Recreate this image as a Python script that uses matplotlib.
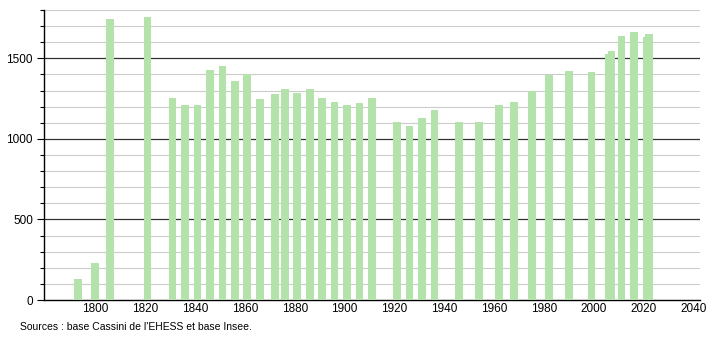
import matplotlib.pyplot as plt
from matplotlib.ticker import MultipleLocator

plt.rcParams['font.family'] = ['Liberation Sans', 'DejaVu Sans']

# --- DATA ---
years = [1793, 1800, 1806, 1821, 1831, 1836, 1841, 1846, 1851, 1856,
         1861, 1866, 1872, 1876, 1881, 1886, 1891, 1896, 1901, 1906,
         1911, 1921, 1926, 1931, 1936, 1946, 1954, 1962, 1968, 1975,
         1982, 1990, 1999, 2006, 2007, 2011, 2016, 2021, 2022]
population = [130, 228, 1743, 1754, 1256, 1212, 1212, 1426, 1455, 1357,
              1405, 1245, 1281, 1312, 1287, 1312, 1256, 1231, 1212, 1225,
              1256, 1106, 1081, 1131, 1181, 1106, 1106, 1212, 1231, 1297,
              1395, 1424, 1413, 1525, 1545, 1640, 1662, 1630, 1650]
x_ticks = [1800, 1820, 1840, 1860, 1880, 1900, 1920, 1940, 1960, 1980, 2000, 2020, 2040]
y_ticks = [0, 500, 1000, 1500]

fig = plt.figure(figsize=(7.1, 3.4), dpi=100)
ax = fig.add_axes([0.062, 0.1176, 0.924, 0.853])

ax.bar(years, population, width=3.1, color='#b3e3ab', zorder=3)

# gridlines: light every 100, dark every 500
for v in range(100, 1801, 100):
    if v % 500 == 0:
        ax.axhline(v, color='#333333', lw=0.9, zorder=1)
    else:
        ax.axhline(v, color='#cccccc', lw=0.8, zorder=1)

ax.set_xlim(1779.5, 2042.5)
ax.set_ylim(0, 1800)
ax.set_xticks(x_ticks)
ax.set_yticks(y_ticks)
ax.yaxis.set_minor_locator(MultipleLocator(100))
ax.tick_params(axis='both', labelsize=8.5, colors='black', width=0.8)
ax.tick_params(axis='y', which='major', length=5, pad=3)
ax.tick_params(axis='y', which='minor', length=3, width=0.8)
ax.tick_params(axis='x', length=0, pad=2)

for s in ['top', 'right']:
    ax.spines[s].set_visible(False)
ax.spines['left'].set_linewidth(1.0)
ax.spines['bottom'].set_linewidth(1.0)

fig.text(0.028, 0.038, "Sources : base Cassini de l'EHESS et base Insee.",
         fontsize=7.5, va='center')

fig.savefig('out.png', dpi=100)
